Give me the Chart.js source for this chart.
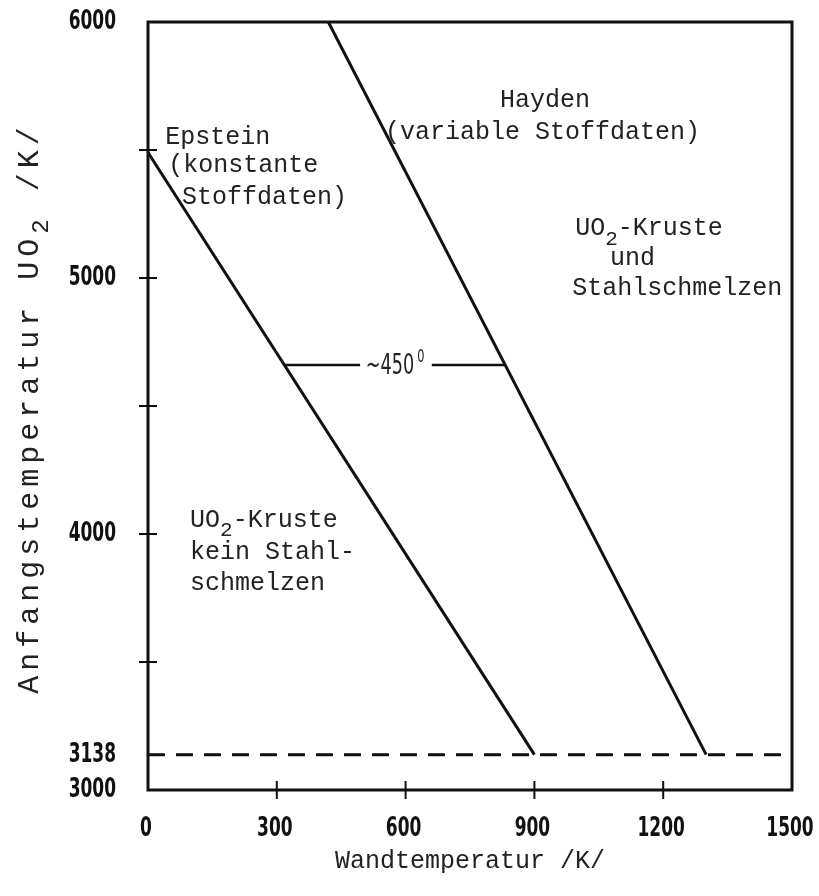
<!DOCTYPE html>
<html>
<head>
<meta charset="utf-8">
<script src="https://cdn.jsdelivr.net/npm/chart.js@4/dist/chart.umd.min.js"></script>
<style>
html, body { margin: 0; padding: 0; background: #fff; }
canvas { display: block; }
</style>
</head>
<body>
<canvas id="myChart" width="819" height="896"></canvas>
<script>
// axis ticks
var xTicks = [0, 300, 600, 900, 1200, 1500];
var yTicks = [3000, 3138, 4000, 5000, 6000];
var xMarks = [300, 600, 900, 1200];
var yMarks = [3500, 4000, 4500, 5000, 5500];

// curves
var epsteinX = [0, 900];
var epsteinY = [5490, 3138];
var haydenX = [420, 1300];
var haydenY = [6000, 3138];
var meltX = [0, 1500];
var meltY = [3138, 3138];
var diffLeftX = [318, 494];
var diffRightX = [661, 832];
var diffY = [4660, 4660];

var monoFont = "'Liberation Mono', 'DejaVu Sans Mono', monospace";
var numFont = "'DejaVu Sans Condensed', 'DejaVu Sans', sans-serif";

// text notes, anchored in data units (left edge, middle)
var notes = [
  { parts: [['Epstein', 0]], x: 40, y: 5551 },
  { parts: [['(konstante', 0]], x: 47, y: 5441 },
  { parts: [['Stoffdaten)', 0]], x: 79, y: 5316 },
  { parts: [['Hayden', 0]], x: 820, y: 5695 },
  { parts: [['(variable Stoffdaten)', 0]], x: 552, y: 5570 },
  { parts: [['UO', 0], ['2', 1], ['-Kruste', 0]], x: 995, y: 5195 },
  { parts: [['und', 0]], x: 1076, y: 5078 },
  { parts: [['Stahlschmelzen', 0]], x: 988, y: 4961 },
  { parts: [['UO', 0], ['2', 1], ['-Kruste', 0]], x: 98, y: 4055 },
  { parts: [['kein Stahl-', 0]], x: 98, y: 3930 },
  { parts: [['schmelzen', 0]], x: 98, y: 3809 }
];
var yTitle = [['Anfangstemperatur UO', 0], ['2', 1], [' /K/', 0]];

function pts(xs, ys) {
  return xs.map(function (x, i) { return { x: x, y: ys[i] }; });
}

function line(xs, ys, w, dash) {
  return {
    data: pts(xs, ys),
    showLine: true,
    borderColor: '#111',
    borderWidth: w,
    borderDash: dash || [],
    pointRadius: 0,
    fill: false
  };
}

function noPad(s) {
  s.paddingLeft = 0; s.paddingRight = 0; s.paddingTop = 0; s.paddingBottom = 0;
}

// narrow, tall digits like the stencil numbers of the original
function narrowText(c, txt, x, y, align) {
  c.save();
  c.translate(x, y);
  c.scale(0.7, 1);
  c.textAlign = align;
  c.fillText(txt, 0, 0);
  c.restore();
}

var framePlugin = {
  id: 'frame',
  afterDatasetsDraw: function (chart) {
    var c = chart.ctx;
    var a = chart.chartArea;
    var xs = chart.scales.x;
    var ys = chart.scales.y;
    c.save();
    c.strokeStyle = '#111';
    c.lineWidth = 3;
    c.strokeRect(a.left, a.top, a.right - a.left, a.bottom - a.top);
    c.lineWidth = 2;
    xMarks.forEach(function (v) {
      var px = xs.getPixelForValue(v);
      c.beginPath();
      c.moveTo(px, a.bottom - 9);
      c.lineTo(px, a.bottom + 9);
      c.stroke();
    });
    yMarks.forEach(function (v) {
      var py = ys.getPixelForValue(v);
      c.beginPath();
      c.moveTo(a.left - 9, py);
      c.lineTo(a.left + 9, py);
      c.stroke();
    });

    // tick labels from the scales
    c.fillStyle = '#111';
    c.textBaseline = 'middle';
    c.font = 'bold 27px ' + numFont;
    xs.ticks.forEach(function (t) {
      narrowText(c, String(t.value), xs.getPixelForValue(t.value) - 2, a.bottom + 39, 'center');
    });
    ys.ticks.forEach(function (t) {
      narrowText(c, String(t.value), a.left - 32, ys.getPixelForValue(t.value), 'right');
    });

    // notes
    c.fillStyle = '#222';
    c.textAlign = 'left';
    notes.forEach(function (n) {
      var px = xs.getPixelForValue(n.x);
      var py = ys.getPixelForValue(n.y);
      n.parts.forEach(function (p) {
        c.font = (p[1] ? '21px ' : '25px ') + monoFont;
        c.fillText(p[0], px, py + (p[1] ? 11 : 0));
        px += c.measureText(p[0]).width;
      });
    });

    // ~450 label between the two curves
    var mx = xs.getPixelForValue((diffLeftX[1] + diffRightX[0]) / 2);
    var my = ys.getPixelForValue(diffY[0]);
    c.font = '28px ' + numFont;
    narrowText(c, '~450', mx - 6, my + 2, 'center');
    c.font = '18px ' + numFont;
    narrowText(c, '0', mx + 25, my - 8, 'center');

    // rotated, letter-spaced y axis title
    c.translate(30, (a.top + a.bottom) / 2 + 2);
    c.rotate(-Math.PI / 2);
    c.letterSpacing = '5px';
    c.textAlign = 'left';
    var total = 0;
    yTitle.forEach(function (p) {
      c.font = (p[1] ? '24px ' : '30px ') + monoFont;
      total += c.measureText(p[0]).width;
    });
    var tx = -total / 2;
    yTitle.forEach(function (p) {
      c.font = (p[1] ? '24px ' : '30px ') + monoFont;
      c.fillText(p[0], tx, p[1] ? 12 : 0);
      tx += c.measureText(p[0]).width;
    });
    c.restore();
  }
};

var ctx = document.getElementById('myChart').getContext('2d');
var myChart = new Chart(ctx, {
  type: 'scatter',
  data: {
    datasets: [
      line(epsteinX, epsteinY, 3),
      line(haydenX, haydenY, 3),
      line(meltX, meltY, 3, [17, 11]),
      line(diffLeftX, diffY, 2.5),
      line(diffRightX, diffY, 2.5)
    ]
  },
  options: {
    responsive: false,
    animation: false,
    devicePixelRatio: 1,
    layout: { padding: { top: 22, right: 27, left: 0, bottom: 0 } },
    plugins: {
      legend: { display: false },
      tooltip: { enabled: false }
    },
    scales: {
      x: {
        type: 'linear',
        min: 0,
        max: 1500,
        afterBuildTicks: function (s) { s.ticks = xTicks.map(function (v) { return { value: v }; }); },
        afterFit: function (s) { s.height = 106; noPad(s); },
        grid: { display: false, drawTicks: false },
        border: { display: false },
        ticks: { display: false },
        title: {
          display: true,
          text: 'Wandtemperatur /K/',
          color: '#222',
          padding: { top: 0, bottom: 20 },
          font: { family: monoFont, size: 25 }
        }
      },
      y: {
        type: 'linear',
        min: 3000,
        max: 6000,
        afterBuildTicks: function (s) { s.ticks = yTicks.map(function (v) { return { value: v }; }); },
        afterFit: function (s) { s.width = 148; noPad(s); },
        grid: { display: false, drawTicks: false },
        border: { display: false },
        ticks: { display: false },
        title: { display: false }
      }
    }
  },
  plugins: [framePlugin]
});
</script>
</body>
</html>
